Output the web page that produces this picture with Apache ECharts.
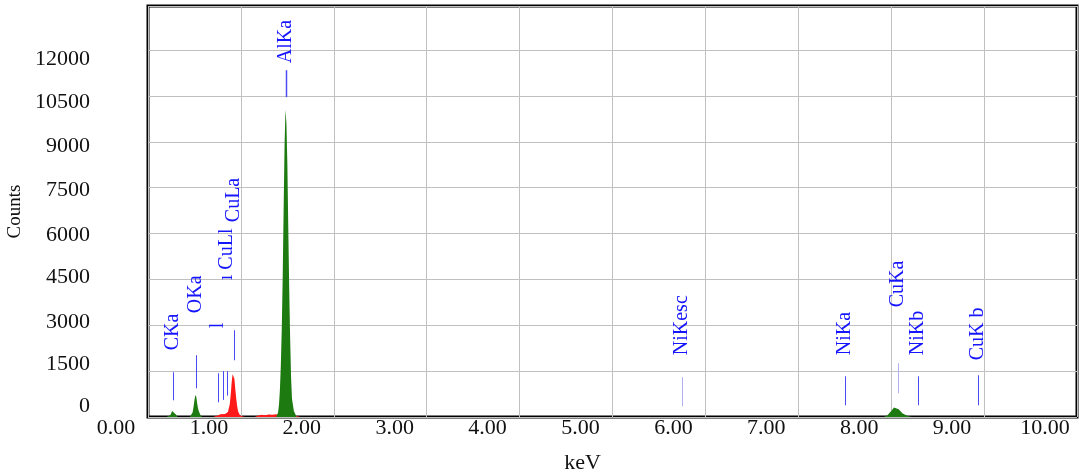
<!DOCTYPE html>
<html>
<head>
<meta charset="utf-8">
<script src="https://cdn.jsdelivr.net/npm/echarts@6/dist/echarts.min.js"></script>
<style>
  html, body { margin: 0; padding: 0; background: #fff; }
  #main { width: 1079px; height: 472px; }
</style>
</head>
<body>
<div id="main"></div>
<script>
// identified peaks (green)
const greenKeV = [0.20, 0.22, 0.24, 0.26, 0.27, 0.28, 0.30, 0.32,
  0.45, 0.47, 0.48, 0.49, 0.50, 0.51, 0.52, 0.53, 0.54, 0.56, 0.58,
  1.38, 1.40, 1.41, 1.42, 1.43, 1.44, 1.45, 1.46, 1.47, 1.48, 1.49, 1.50, 1.51, 1.52, 1.53, 1.54, 1.55, 1.57, 1.60,
  7.92, 7.96, 8.00, 8.03, 8.05, 8.08, 8.12, 8.17, 8.22];
const greenCounts = [0, 0, 60, 200, 230, 210, 80, 0,
  0, 60, 150, 330, 560, 720, 650, 430, 250, 90, 0,
  0, 150, 400, 900, 1700, 2900, 4600, 6800, 8900, 10050, 9600, 8300, 6200, 4200, 2600, 1300, 600, 200, 0,
  0, 60, 200, 310, 330, 250, 120, 40, 0];

// remaining spectrum (red)
const redKeV = [0.70, 0.72, 0.75, 0.78, 0.80, 0.83, 0.86, 0.88, 0.89, 0.90, 0.91, 0.92, 0.93, 0.94, 0.95, 0.96, 0.97, 0.99, 1.02, 1.05,
  1.15, 1.18, 1.22, 1.26, 1.30, 1.34, 1.38, 1.42, 1.56, 1.60, 1.64];
const redCounts = [0, 20, 50, 90, 60, 100, 160, 420, 720, 1100, 1400, 1440, 1250, 900, 600, 350, 180, 60, 20, 0,
  0, 40, 70, 60, 80, 70, 90, 60, 60, 30, 0];

// element markers
const markerNames = ['CKa', 'OKa', 'l', '', '\u0131 CuLl', 'CuLa', 'AlKa', 'NiKesc', 'NiKa', 'CuKa', 'NiKb', 'CuK b'];
const markerKeV = [0.27, 0.517, 0.753, 0.807, 0.850, 0.926, 1.486, 5.748, 7.503, 8.073, 8.289, 8.935];
const markerLow = [546, 939, 480, 560, 700, 1855, 10460, 350, 383, 775, 383, 383];
const markerHigh = [1463, 2019, 1430, 1500, 1500, 2837, 11340, 1300, 1332, 1757, 1332, 1365];
const markerLabelAt = [2182, 3393, 2902, 0, 4473, 6370, 11570, 2020, 2020, 3590, 2020, 1855];

const yTickLabels = ['0', '1500', '3000', '4500', '6000', '7500', '9000', '10500', '12000'];
// label nudges: negative = pad below (moves up), positive = pad above (moves down)
const yLabelPad = [-22, -13, -6, -4, 4, 5, 9, 13, 18];
const faintMarkers = ['NiKesc', 'CuKa'];

const serif = 'Liberation Serif';
const rich = {};
yLabelPad.forEach((p, i) => {
  rich['y' + i] = {
    fontFamily: serif, fontSize: 22, color: '#111',
    padding: p < 0 ? [0, 0, -p, 0] : [p, 0, 0, 0]
  };
});

const chart = echarts.init(document.getElementById('main'));

const option = {
  animation: false,
  grid: {
    left: 148, right: 2, top: 6, bottom: 55,
    outerBoundsMode: 'none',
    containLabel: false,
    show: true, borderColor: '#000', borderWidth: 3
  },
  xAxis: {
    type: 'value',
    min: 0, max: 10, interval: 1,
    name: 'keV',
    nameLocation: 'middle',
    nameGap: 35,
    nameTextStyle: { fontFamily: serif, fontSize: 22, color: '#111', padding: [0, 60, 0, 0] },
    axisLine: { show: false },
    axisTick: { show: false },
    splitLine: { lineStyle: { color: '#c0c0c0', width: 1 } },
    axisLabel: {
      margin: 0,
      fontFamily: serif, fontSize: 22, color: '#111',
      padding: [0, 64, 0, 0],
      formatter: v => v.toFixed(2)
    }
  },
  yAxis: {
    type: 'value',
    min: 0, max: 13440, interval: 1500,
    name: 'Counts',
    nameLocation: 'middle',
    nameGap: 119,
    nameTextStyle: { fontFamily: serif, fontSize: 19, color: '#111' },
    axisLine: { show: false },
    axisTick: { show: false },
    splitLine: { lineStyle: { color: '#c0c0c0', width: 1 } },
    axisLabel: {
      margin: 58,
      formatter: v => {
        if (v % 1500 !== 0) return '';
        const i = v / 1500;
        return '{y' + i + '|' + yTickLabels[i] + '}';
      },
      rich: rich
    }
  },
  series: [
    {
      type: 'line',
      data: redKeV.map((k, i) => [k, redCounts[i]]),
      symbol: 'none',
      lineStyle: { width: 0 },
      areaStyle: { color: '#ff1a1a', opacity: 1 },
      z: 2
    },
    {
      type: 'line',
      data: greenKeV.map((k, i) => [k, greenCounts[i]]),
      symbol: 'none',
      lineStyle: { width: 0 },
      areaStyle: { color: '#1d7a10', opacity: 1 },
      z: 3
    },
    {
      type: 'custom',
      z: 4,
      data: markerKeV.map((k, i) => [k, markerLow[i], markerHigh[i], markerLabelAt[i]]),
      encode: { x: 0, y: [1, 2] },
      renderItem: (params, api) => {
        const i = params.dataIndex;
        const lo = api.coord([api.value(0), api.value(1)]);
        const hi = api.coord([api.value(0), api.value(2)]);
        const lab = api.coord([api.value(0), api.value(3)]);
        const faint = faintMarkers.includes(markerNames[i]);
        const children = [{
          type: 'line',
          shape: { x1: Math.round(lo[0]) + 0.5, y1: lo[1], x2: Math.round(hi[0]) + 0.5, y2: hi[1] },
          style: { stroke: faint ? '#b0b0f2' : '#4a4af5', lineWidth: markerNames[i] === 'AlKa' ? 1.5 : 1 }
        }];
        if (markerNames[i]) {
          children.push({
            type: 'text',
            x: lab[0], y: lab[1],
            rotation: Math.PI / 2,
            style: {
              text: markerNames[i],
              fill: '#1515ff',
              font: '20px "Liberation Serif"',
              align: 'left',
              verticalAlign: 'middle'
            }
          });
        }
        return { type: 'group', children: children };
      }
    }
  ]
};

chart.setOption(option);
</script>
</body>
</html>
